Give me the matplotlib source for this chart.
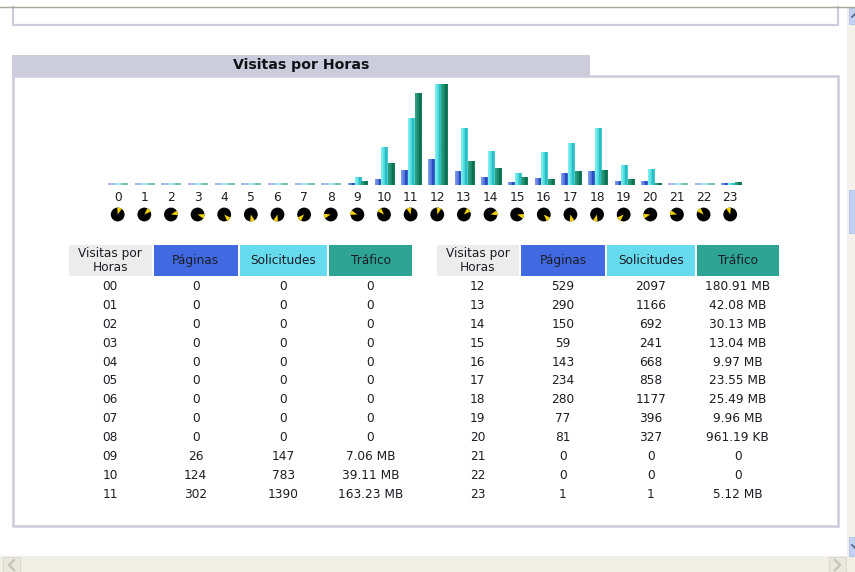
import matplotlib
matplotlib.use("Agg")
import matplotlib.pyplot as plt
from matplotlib.patches import Rectangle, Circle, Wedge
import numpy as np

W, H = 855, 572

hours = list(range(24))
paginas = [0, 0, 0, 0, 0, 0, 0, 0, 0, 26, 124, 302, 529, 290, 150, 59, 143, 234, 280, 77, 81, 0, 0, 1]
solicitudes = [0, 0, 0, 0, 0, 0, 0, 0, 0, 147, 783, 1390, 2097, 1166, 692, 241, 668, 858, 1177, 396, 327, 0, 0, 1]
trafico_mb = [0, 0, 0, 0, 0, 0, 0, 0, 0, 7.06, 39.11, 163.23, 180.91, 42.08, 30.13, 13.04, 9.97, 23.55, 25.49, 9.96, 0.94, 0, 0, 5.12]
trafico_txt = ["0", "0", "0", "0", "0", "0", "0", "0", "0", "7.06 MB", "39.11 MB", "163.23 MB",
               "180.91 MB", "42.08 MB", "30.13 MB", "13.04 MB", "9.97 MB", "23.55 MB", "25.49 MB",
               "9.96 MB", "961.19 KB", "0", "0", "5.12 MB"]
headers = ["Visitas por\nHoras", "Páginas", "Solicitudes", "Tráfico"]
header_colors = ["#ececec", "#4169e1", "#66dbee", "#2ea495"]
bar_colors = [("#7c98f0", "#1c40b8"), ("#78f0f0", "#1cb4bc"), ("#2ca080", "#046848")]
zero_colors = ["#a4b6f0", "#a4e8f0", "#78c4b4"]

FRAME = "#ccccdd"
TEXT = "#1c1c24"
plt.rcParams["font.family"] = "DejaVu Sans"


def gradient_bar(ax, x, width, height, colors):
    # light on the left, dark on the right
    c0 = np.array(matplotlib.colors.to_rgb(colors[0]))
    c1 = np.array(matplotlib.colors.to_rgb(colors[1]))
    t = np.array([0.0, 0.2, 0.45, 1.0, 0.6])[:, None]
    img = (c0 * (1 - t) + c1 * t)[None, :, :]
    ax.imshow(img, extent=(x, x + width, 0, height), aspect="auto", interpolation="bilinear", zorder=2)


fig = plt.figure(figsize=(W / 100, H / 100), dpi=100)

# page layer, in pixels
page = fig.add_axes([0, 0, 1, 1])
page.set_xlim(0, W)
page.set_ylim(H, 0)
page.axis("off")

# box cut off at the top of the window
page.plot([13, 13, 838, 838], [7, 24.5, 24.5, 7], color=FRAME, lw=1.6)
page.plot([0, W], [7, 7], color="#aca899", lw=1)

# section box and title tab
page.add_patch(Rectangle((13, 76), 824.5, 450, fc="white", ec=FRAME, lw=1.8))
page.add_patch(Rectangle((12, 55), 578, 21, fc=FRAME, ec="none"))
page.text(301.5, 65.5, "Visitas por Horas", ha="center", va="center", fontsize=10.2, fontweight="bold", color="#111118")

# scrollbars
page.add_patch(Rectangle((847, 8), 8, 549, fc="#f3f1ea", ec="none"))
page.add_patch(Rectangle((0, 556), W, 16, fc="#f1efe6", ec="none"))
for y, h in [(8, 16), (190, 43), (537, 19)]:
    page.add_patch(Rectangle((849, y), 6, h, fc="#c3d1f5", ec="#aebfe8", lw=0.6))
for x in (3, 829):
    page.add_patch(Rectangle((x, 557), 17, 15, fc="#e9e7de", ec="#dcdad0", lw=0.8))
page.plot([14, 9, 14], [560, 565, 570], color="#c4c2b8", lw=1.6)
page.plot([835, 840, 835], [560, 565, 570], color="#c4c2b8", lw=1.6)
page.plot([852, 855], [17, 14], color="#4d6185", lw=1.2)
page.plot([852, 855], [545, 548], color="#4d6185", lw=1.2)

# bars, in hours / share of the busiest hour
chart = fig.add_axes([108 / W, 1 - 185 / H, 640 / W, 102.5 / H])
chart.axis("off")
series = [paginas, solicitudes, trafico_mb]
max_val = [max(solicitudes), max(solicitudes), max(trafico_mb)]
bar_w = 1 / 4
for h in hours:
    for k, vals in enumerate(series):
        x = h + k * bar_w
        share = vals[h] / max_val[k]
        if vals[h] == 0:
            chart.bar(x, 0.016, bar_w, align="edge", color=zero_colors[k], zorder=2)
        else:
            gradient_bar(chart, x, bar_w, max(share, 0.016), bar_colors[k])
chart.set_xlim(0, 24)
chart.set_ylim(0, 1.015)

# hour labels and clocks
for h in hours:
    cx = 117.7 + h * 26.63
    page.text(cx, 197.5, str(h), ha="center", va="center", fontsize=8.8, color=TEXT)
    page.add_patch(Circle((cx, 214.5), 6.9, fc="black", ec="none"))
    start = (h % 12) * 30 - 90
    page.add_patch(Wedge((cx, 214.5), 6.9, start - 4, start + 36, fc="#f0d000", ec="none", zorder=3))


def table(cols, rows):
    for (x, w), label, color in zip(cols, headers, header_colors):
        page.add_patch(Rectangle((x, 244.5), w, 31, fc=color, ec="none"))
        page.text(x + w / 2, 260.5, label, ha="center", va="center", fontsize=8.7, color=TEXT, linespacing=1.1)
    for i, h in enumerate(rows):
        y = 286.5 + i * 18.9
        vals = [f"{h:02d}", str(paginas[h]), str(solicitudes[h]), trafico_txt[h]]
        for (x, w), v in zip(cols, vals):
            page.text(x + w / 2, y, v, ha="center", va="center", fontsize=8.7, color=TEXT)


table([(69, 82.5), (153.5, 84.5), (240, 87), (329, 83)], hours[:12])
table([(436.5, 82.5), (521, 84), (607, 87.5), (696.5, 82.5)], hours[12:])

fig.savefig("out.png", dpi=100)
